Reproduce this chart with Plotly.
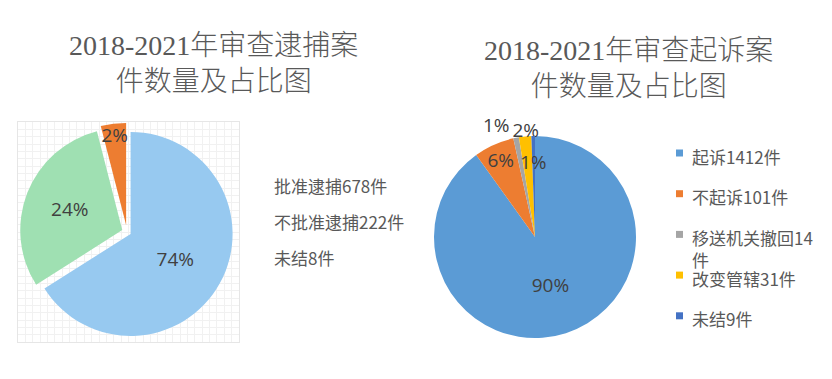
import plotly.graph_objects as go

W, H = 832, 379

# ---------------- data ----------------
arrest_labels = ["批准逮捕678件", "不批准逮捕222件", "未结8件"]
arrest_share_drawn = [66, 30, 4]          # slice sizes as drawn in the picture
arrest_pct_text = ["74%", "24%", "2%"]    # percentage labels printed on slices
arrest_colors = ["#97C9F0", "#9FE0B2", "#ED7D31"]
arrest_pull = [0.04, 0.05, 0.07]

prosec_labels = ["起诉1412件", "不起诉101件", "移送机关撤回14<br>件", "改变管辖31件", "未结9件"]
prosec_counts = [1412, 101, 14, 31, 9]
prosec_colors = ["#5B9BD5", "#ED7D31", "#A5A5A5", "#FFC000", "#4472C4"]
prosec_textpos = ["inside", "inside", "outside", "inside", "inside"]
prosec_templates = ["%{percent:.0%}", "%{percent:.0%}", "%{percent:.0%}",
                    "%{percent:.0%}<br>&nbsp;", "&nbsp;<br>&nbsp;<br>%{percent:.0%}"]

title_left = "2018-2021年审查逮捕案<br>件数量及占比图"
title_right = "2018-2021年审查起诉案<br>件数量及占比图"


def px(x):
    return x / W


def py(y):
    return (H - y) / H


fig = go.Figure()

# faint grid background behind the left pie
fig.add_trace(go.Scatter(x=[None], y=[None], showlegend=False, hoverinfo="skip",
                         xaxis="x", yaxis="y"))

lhalf = 102 * (1 + max(arrest_pull))
fig.add_trace(go.Pie(
    values=arrest_share_drawn, labels=arrest_labels, text=arrest_pct_text,
    texttemplate="%{text}", textinfo="text", textposition="inside",
    insidetextorientation="horizontal",
    marker=dict(colors=arrest_colors, line=dict(width=0)),
    pull=arrest_pull, sort=False, direction="clockwise", rotation=0,
    textfont=dict(family="Open Sans", size=19, color="#404040"),
    domain=dict(x=[px(127 - lhalf), px(127 + lhalf)], y=[py(232 + lhalf), py(232 - lhalf)]),
    showlegend=False, hoverinfo="label+text",
))

fig.add_trace(go.Pie(
    values=prosec_counts, labels=prosec_labels,
    texttemplate=prosec_templates, textposition=prosec_textpos,
    insidetextorientation="horizontal",
    marker=dict(colors=prosec_colors, line=dict(width=0)),
    sort=False, direction="clockwise", rotation=0,
    textfont=dict(family="Open Sans", size=19, color="#404040"),
    outsidetextfont=dict(family="Open Sans", size=19, color="#404040"),
    domain=dict(x=[px(535 - 101), px(535 + 101)], y=[py(237 + 101), py(237 - 101)]),
    showlegend=False,
))

annotations = []
tfont = dict(family="Liberation Serif, Noto Sans CJK SC", size=28, color="#595959", weight=300)
annotations.append(dict(text=title_left, x=px(214), y=py(63.5), xref="paper", yref="paper",
                        xanchor="center", yanchor="middle", showarrow=False, font=tfont))
annotations.append(dict(text=title_right, x=px(628), y=py(68.5), xref="paper", yref="paper",
                        xanchor="center", yanchor="middle", showarrow=False, font=tfont))

lfont = dict(family="Noto Sans CJK SC", size=17, color="#595959")
for i, lab in enumerate(arrest_labels):
    cy = 185 + i * 36
    annotations.append(dict(text=lab, x=px(272), y=py(cy), xref="paper", yref="paper",
                            xanchor="left", yanchor="middle", showarrow=False, font=lfont))

shapes = []
for i, (lab, col) in enumerate(zip(prosec_labels, prosec_colors)):
    cy = 153 + i * 40.7
    annotations.append(dict(text=lab, x=px(690), y=py(cy - 11.5), xref="paper", yref="paper",
                            xanchor="left", yanchor="top", showarrow=False, font=lfont,
                            align="left"))
    shapes.append(dict(type="rect", xref="paper", yref="paper",
                       x0=px(676), x1=px(683), y0=py(cy + 3.5), y1=py(cy - 3.5),
                       fillcolor=col, line=dict(width=0)))

fig.update_layout(
    width=W, height=H, margin=dict(l=0, r=0, t=0, b=0),
    paper_bgcolor="white", plot_bgcolor="white",
    xaxis=dict(domain=[px(18), px(239)], range=[0, 30], dtick=1, showgrid=True,
               gridcolor="#F1F1F1", gridwidth=1, zeroline=False, showticklabels=False,
               showline=True, linecolor="#E6E6E6", mirror=True, ticks="", fixedrange=True),
    yaxis=dict(domain=[py(342), py(122)], range=[0, 30], dtick=1, showgrid=True,
               gridcolor="#F1F1F1", gridwidth=1, zeroline=False, showticklabels=False,
               showline=True, linecolor="#E6E6E6", mirror=True, ticks="", fixedrange=True),
    uniformtext=dict(minsize=19, mode="show"),
    annotations=annotations, shapes=shapes, showlegend=False,
)

fig.write_html("out.html")
